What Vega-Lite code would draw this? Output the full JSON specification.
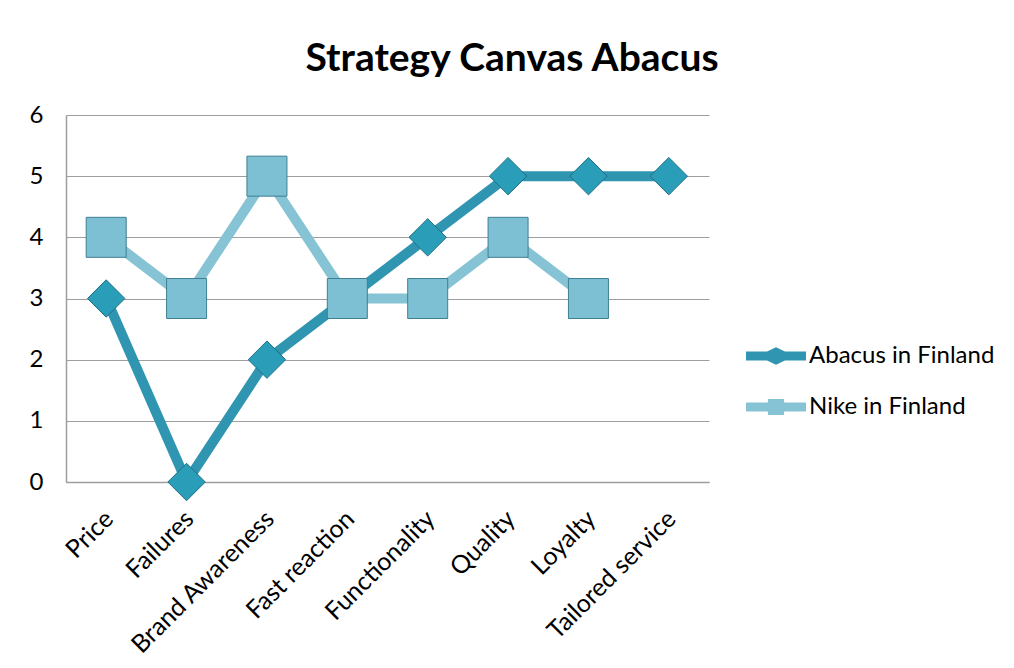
{
  "$schema": "https://vega.github.io/schema/vega-lite/v6.json",
  "width": 643,
  "height": 367,
  "padding": {"left": 29, "top": 40, "right": 0, "bottom": 0},
  "autosize": {"type": "pad"},
  "background": "white",
  "title": {"text": "Strategy Canvas Abacus", "font": "Lato", "fontSize": 39, "fontWeight": "bold", "color": "#000000", "anchor": "middle", "frame": "bounds", "offset": 24},
  "config": {
    "view": {"stroke": null},
    "axis": {"labelFont": "Lato", "labelFontSize": 24, "labelColor": "#000000", "ticks": false, "domainColor": "#9e9e9e", "gridColor": "#9e9e9e", "gridWidth": 1, "domainWidth": 1.5, "title": null}
  },
  "data": {"values": [
    {"factor": "Price", "series": "Abacus in Finland", "score": 3},
    {"factor": "Failures", "series": "Abacus in Finland", "score": 0},
    {"factor": "Brand Awareness", "series": "Abacus in Finland", "score": 2},
    {"factor": "Fast reaction", "series": "Abacus in Finland", "score": 3},
    {"factor": "Functionality", "series": "Abacus in Finland", "score": 4},
    {"factor": "Quality", "series": "Abacus in Finland", "score": 5},
    {"factor": "Loyalty", "series": "Abacus in Finland", "score": 5},
    {"factor": "Tailored service", "series": "Abacus in Finland", "score": 5},
    {"factor": "Price", "series": "Nike in Finland", "score": 4},
    {"factor": "Failures", "series": "Nike in Finland", "score": 3},
    {"factor": "Brand Awareness", "series": "Nike in Finland", "score": 5},
    {"factor": "Fast reaction", "series": "Nike in Finland", "score": 3},
    {"factor": "Functionality", "series": "Nike in Finland", "score": 3},
    {"factor": "Quality", "series": "Nike in Finland", "score": 4},
    {"factor": "Loyalty", "series": "Nike in Finland", "score": 3}
  ]},
  "encoding": {
    "x": {"field": "factor", "type": "nominal", "sort": null,
      "scale": {"type": "point", "padding": 0.5},
      "axis": {"labelAngle": -45, "labelPadding": 24, "labelOffset": -6, "labelFontSize": 25, "labelLimit": 400, "grid": false, "domain": true}},
    "y": {"field": "score", "type": "quantitative",
      "scale": {"domain": [0, 6], "nice": false},
      "axis": {"values": [0, 1, 2, 3, 4, 5, 6], "labelPadding": 23, "grid": true}}
  },
  "layer": [
    {"mark": {"type": "line", "strokeWidth": 10, "strokeJoin": "round", "strokeCap": "round"},
      "encoding": {
        "color": {"field": "series", "type": "nominal",
          "scale": {"domain": ["Abacus in Finland", "Nike in Finland"], "range": ["#2F95B0", "#86C3D4"]},
          "legend": {"title": null, "orient": "none", "legendX": 680, "legendY": 211,
            "labelFont": "Lato", "labelFontSize": 24, "labelColor": "#000000", "labelLimit": 400,
            "symbolType": "square", "symbolSize": 3600, "symbolStrokeWidth": 0, "labelOffset": 3, "rowPadding": 9, "padding": 0,
            "encode": {"symbols": {"update": {
              "shape": {"signal": "datum.value === 'Abacus in Finland' ? 'M-1,-0.15 L-0.3,-0.15 L0,-0.29 L0.3,-0.15 L1,-0.15 L1,0.15 L0.3,0.15 L0,0.29 L-0.3,0.15 L-1,0.15 Z' : 'M-1,-0.15 L-0.27,-0.15 L-0.27,-0.27 L0.27,-0.27 L0.27,-0.15 L1,-0.15 L1,0.15 L0.27,0.15 L0.27,0.27 L-0.27,0.27 L-0.27,0.15 L-1,0.15 Z'"},
              "fill": {"signal": "datum.value === 'Abacus in Finland' ? '#2F95B0' : '#86C3D4'"},
              "fillOpacity": {"value": 1},
              "stroke": {"value": "transparent"},
              "strokeWidth": {"value": 0}
            }}}}
        }
      }},
    {"transform": [{"filter": "datum.series === 'Abacus in Finland'"}],
      "mark": {"type": "point", "shape": "diamond", "size": 1400, "filled": true, "opacity": 1, "fill": "#2A9DB8", "strokeWidth": 1, "stroke": "#1f6f85"}},
    {"transform": [{"filter": "datum.series === 'Nike in Finland'"}],
      "mark": {"type": "point", "shape": "square", "size": 1600, "filled": true, "opacity": 1, "fill": "#7DBFD3", "strokeWidth": 1, "stroke": "#3f7f93"}}
  ]
}
